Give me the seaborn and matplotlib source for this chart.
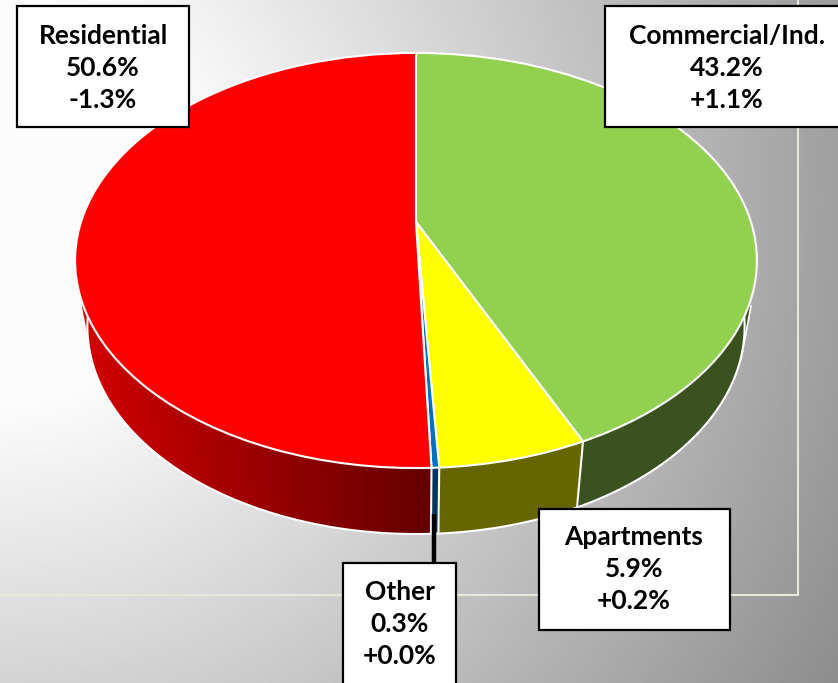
import numpy as np
import matplotlib
matplotlib.use('Agg')
import matplotlib.pyplot as plt
import seaborn as sns
from matplotlib.collections import PolyCollection
from matplotlib.patches import Polygon, Rectangle
from matplotlib.transforms import Transform

# clockwise from 12 o'clock
categories = ['Commercial/Ind.', 'Apartments', 'Other', 'Residential']
shares = [43.2, 5.9, 0.3, 50.6]
changes = [1.1, 0.2, 0.0, -1.3]

top_colors = ['#92d050', '#ffff00', '#0070c0', '#ff0000']
wall_colors = [['#3a5220', '#3a5220'], ['#666600', '#666600'], ['#003560', '#003560'],
               ['#640000', '#d00000']]

# label box: left, top, right, bottom in pixels
boxes = [(605, 6, 850, 127), (539, 509, 730, 630), (343, 563, 456, 700), (17, 6, 189, 127)]
text_pos = [(727, 68), (634, 569), (399.5, 624), (103, 68)]

# pie geometry in pixels, the pie is drawn in perspective
CX, CY = 416, 222
A, B, K = 335, 200.4, 0.1855
DEPTH, SHRINK = 66, 0.964


class Perspective(Transform):
    input_dims = 2
    output_dims = 2

    def transform_non_affine(self, values):
        values = np.asarray(values)
        w = 1 + K * values[:, 1]
        return np.column_stack([CX + A * values[:, 0] / w, CY - B * values[:, 1] / w])


def rim(theta, lower=False, depth=DEPTH):
    pts = Perspective().transform_non_affine(np.column_stack([np.sin(theta), np.cos(theta)]))
    if lower:
        pts = np.column_stack([CX + SHRINK * (pts[:, 0] - CX), pts[:, 1] + depth])
    return pts


sns.set_theme(style='white')
plt.rcParams['font.family'] = ['Lato', 'DejaVu Sans']

fig = plt.figure(figsize=(8.38, 6.83), dpi=100)
ax = fig.add_axes([0, 0, 1, 1])

wedges, _ = ax.pie(shares, colors=top_colors, startangle=90, counterclock=False,
                   wedgeprops=dict(edgecolor='white', linewidth=1.5))
ax.set_aspect('auto')
ax.set_xlim(0, 838)
ax.set_ylim(683, 0)
ax.axis('off')
persp = Perspective() + ax.transData
for w in wedges:
    w.set_transform(persp)
    w.set_zorder(2)

# background, light spot on the left
yy, xx = np.mgrid[0:683:3, 0:838:3]
r = np.hypot(xx, yy - 200)
ax.imshow(np.clip(252 - (r - 200) * 0.145, 0, 252), extent=(0, 838, 683, 0), aspect='auto', zorder=0,
          cmap='gray', vmin=0, vmax=255)
ax.plot([0, 798, 798], [595, 595, 0], color='#e9e6da', lw=1.5, zorder=0.5)

# side walls, the clip cuts the ends off straight like the original
clip = Polygon([(81, 306), (91.5, 360), (91.5, 700), (741, 700), (741, 360), (751, 306)],
               transform=ax.transData)
edges = np.radians(np.cumsum([0] + shares) * 3.6)
for i in range(len(shares)):
    theta = np.linspace(edges[i], edges[i + 1], max(3, int(np.degrees(edges[i + 1] - edges[i]) * 2)))
    up, low = rim(theta), rim(theta, lower=True)
    inner = rim(theta, lower=True, depth=DEPTH - 1.5)  # keeps the quads under the white rim
    quads = [[up[j], up[j + 1], inner[j + 1], inner[j]] for j in range(len(theta) - 1)]
    cmap = sns.blend_palette(wall_colors[i], as_cmap=True)
    mid = (low[:-1, 0] + low[1:, 0]) / 2
    pal = cmap(np.clip((430 - mid) / 340, 0, 1))
    walls = PolyCollection(quads, facecolors=pal, edgecolors=pal, linewidths=0.6,
                           antialiaseds=False, zorder=1)
    ax.add_collection(walls)
    walls.set_clip_path(clip)
    rim_line, = ax.plot(low[:, 0], low[:, 1], color='white', lw=1.5, zorder=1.5)
    rim_line.set_clip_path(clip)

# wall ends next to the top face
ax.fill([81, 91.5, 130], [306, 360, 340], color=wall_colors[3][1], lw=0, zorder=1)
ax.fill([751, 741, 700], [306, 360, 340], color=wall_colors[0][1], lw=0, zorder=1)
ax.plot([81, 91.5], [306, 360], color='white', lw=1.2, zorder=1.5)
ax.plot([751, 741], [306, 360], color='white', lw=1.2, zorder=1.5)

for e in edges[1:-1]:
    line = np.vstack([rim(np.array([e])), rim(np.array([e]), lower=True)])
    ax.plot(line[:, 0], line[:, 1], color='white', lw=1.5, zorder=1.5)

# leader of the Other label
ax.plot([433.8, 433.8], [514, 563], color='black', lw=3.2, solid_capstyle='butt', zorder=3)

for name, share, change, (x0, y0, x1, y1), (tx, ty) in zip(categories, shares, changes, boxes, text_pos):
    ax.add_patch(Rectangle((x0, y0), x1 - x0, y1 - y0, facecolor='white', edgecolor='black',
                           linewidth=1.6, zorder=4))
    ax.text(tx, ty, f'{name}\n{share:.1f}%\n{change:+.1f}%', ha='center', va='center',
            fontsize=19, fontweight='bold', color='black', linespacing=1.42, zorder=5)

fig.savefig('out.png', dpi=100)
